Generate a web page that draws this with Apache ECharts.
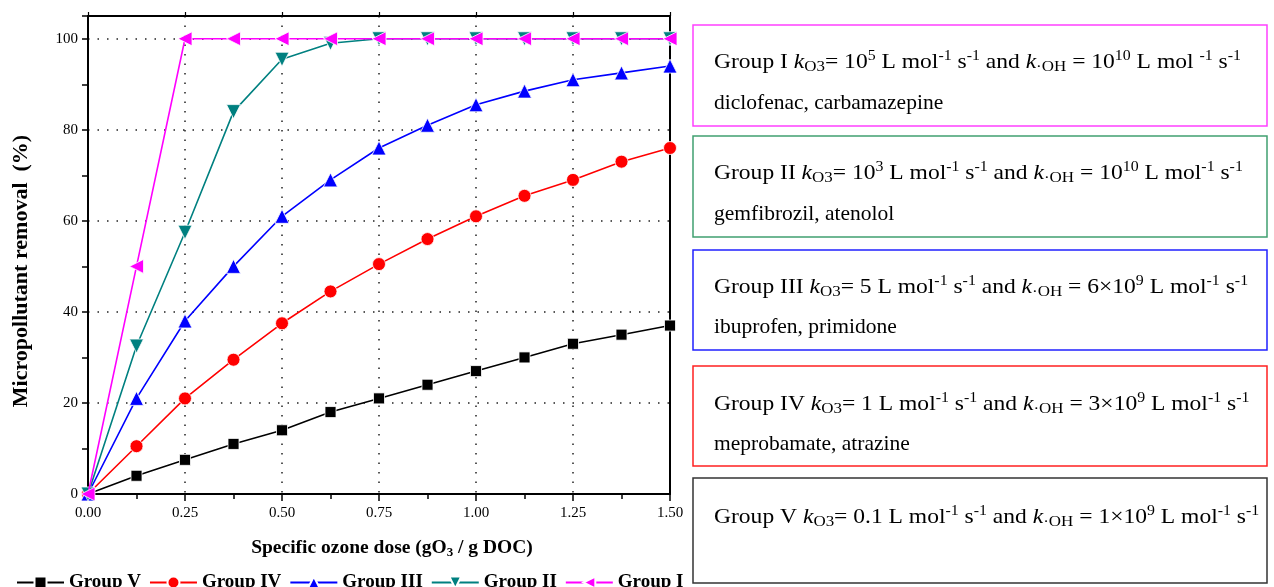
<!DOCTYPE html>
<html><head><meta charset="utf-8">
<script src="https://cdn.jsdelivr.net/npm/echarts@6/dist/echarts.min.js"></script>
<style>html,body{margin:0;padding:0;background:#fff}#c{width:1274px;height:587px}</style>
</head><body><div id="c"></div>
<script>
// ---- data ----
const doses = [0, 0.125, 0.25, 0.375, 0.5, 0.625, 0.75, 0.875, 1.0, 1.125, 1.25, 1.375, 1.5];
const groupV   = [0, 4, 7.5, 11, 14, 18, 21, 24, 27, 30, 33, 35, 37];
const groupIV  = [0, 10.5, 21, 29.5, 37.5, 44.5, 50.5, 56, 61, 65.5, 69, 73, 76];
const groupIII = [0, 21, 38, 50, 61, 69, 76, 81, 85.5, 88.5, 91, 92.5, 94];
const groupII  = [0, 32.5, 57.5, 84, 95.5, 99, 100, 100, 100, 100, 100, 100, 100];
const groupI   = [0, 50, 100, 100, 100, 100, 100, 100, 100, 100, 100, 100, 100];
const seriesNames = ['Group V', 'Group IV', 'Group III', 'Group II', 'Group I'];
const xTickLabels = ['0.00', '0.25', '0.50', '0.75', '1.00', '1.25', '1.50'];
const yTickLabels = ['0', '20', '40', '60', '80', '100'];
const yAxisTitle = 'Micropollutant removal  (%)';
const xAxisTitleParts = ['Specific ozone dose (gO', '3', ' / g DOC)'];
// text boxes: [style, text] tokens ; n normal, i italic, b subscript, p superscript
const boxTexts = [
  [[['n','Group I '],['i','k'],['b','O3'],['n','= 10'],['p','5'],['n',' L mol'],['p','-1'],['n',' s'],['p','-1'],['n',' and '],['i','k'],['b','·OH'],['n',' = 10'],['p','10'],['n',' L mol '],['p','-1'],['n',' s'],['p','-1']],
   [['n','diclofenac, carbamazepine']]],
  [[['n','Group II '],['i','k'],['b','O3'],['n','= 10'],['p','3'],['n',' L mol'],['p','-1'],['n',' s'],['p','-1'],['n',' and '],['i','k'],['b','·OH'],['n',' = 10'],['p','10'],['n',' L mol'],['p','-1'],['n',' s'],['p','-1']],
   [['n','gemfibrozil, atenolol']]],
  [[['n','Group III '],['i','k'],['b','O3'],['n','= 5 L mol'],['p','-1'],['n',' s'],['p','-1'],['n',' and '],['i','k'],['b','·OH'],['n',' = 6×10'],['p','9'],['n',' L mol'],['p','-1'],['n',' s'],['p','-1']],
   [['n','ibuprofen, primidone']]],
  [[['n','Group IV '],['i','k'],['b','O3'],['n','= 1 L mol'],['p','-1'],['n',' s'],['p','-1'],['n',' and '],['i','k'],['b','·OH'],['n',' = 3×10'],['p','9'],['n',' L mol'],['p','-1'],['n',' s'],['p','-1']],
   [['n','meprobamate, atrazine']]],
  [[['n','Group V '],['i','k'],['b','O3'],['n','= 0.1 L mol'],['p','-1'],['n',' s'],['p','-1'],['n',' and '],['i','k'],['b','·OH'],['n',' = 1×10'],['p','9'],['n',' L mol'],['p','-1'],['n',' s'],['p','-1']]]
];

// ---- styling ----
const SERIF = '"Liberation Serif","Times New Roman",serif';
const colors = ['#000000', '#ff0000', '#0000ff', '#008080', '#ff00ff'];
const symbols = ['rect', 'circle', 'triangle', 'triangle', 'triangle'];
const symSizes = [11, 13, 14, 14, 14];
const symRot = [0, 0, 0, 180, 90];
const boxColors = ['#ff40ff', '#40a070', '#2020ff', '#ff2020', '#333333'];
const boxRects = [[693, 25, 574, 101], [693, 136, 574, 101], [693, 250, 574, 100], [693, 366, 574, 100], [693, 478, 574, 105]];
const lineYs = [[62, 103], [173, 214], [287, 327], [404, 444], [517]];
const lineScaleX = [1.095, 1];

const allData = [groupV, groupIV, groupIII, groupII, groupI];
const series = allData.map((arr, k) => ({
  name: seriesNames[k], type: 'line',
  data: doses.map((d, i) => [d, arr[i]]),
  symbol: symbols[k], symbolSize: symSizes[k], symbolRotate: symRot[k],
  showAllSymbol: true,
  lineStyle: { color: colors[k], width: 1.6 },
  itemStyle: { color: colors[k], borderColor: '#fff', borderWidth: 0.8 },
  emphasis: { disabled: true },
  animation: false, z: 3 + k
}));

const rich = {
  n: { fontFamily: SERIF, fontSize: 21.5, color: '#000', lineHeight: 26 },
  i: { fontFamily: SERIF, fontSize: 21.5, fontStyle: 'italic', color: '#000', lineHeight: 26 },
  b: { fontFamily: SERIF, fontSize: 15.5, color: '#000', lineHeight: 15, verticalAlign: 'bottom' },
  p: { fontFamily: SERIF, fontSize: 14.5, color: '#000', lineHeight: 14, verticalAlign: 'top' }
};
const graphics = [];
boxRects.forEach((r, k) => {
  graphics.push({ type: 'rect', shape: { x: r[0], y: r[1], width: r[2], height: r[3] },
    style: { fill: '#fff', stroke: boxColors[k], lineWidth: 1.5 }, z: 1 });
  boxTexts[k].forEach((toks, j) => {
    graphics.push({ type: 'text', x: 714, y: lineYs[k][j], z: 2, scaleX: lineScaleX[j],
      style: { text: toks.map(t => '{' + t[0] + '|' + t[1] + '}').join(''), rich: rich,
        verticalAlign: 'middle', align: 'left' } });
  });
});

const chart = echarts.init(document.getElementById('c'), null, { renderer: 'canvas' });
chart.setOption({
  backgroundColor: '#fff',
  animation: false,
  grid: { left: 88, top: 16, width: 582, height: 478, show: false },
  legend: {
    data: seriesNames, left: 11, top: 568, itemWidth: 47, itemHeight: 15, itemGap: 8,
    textStyle: { fontFamily: SERIF, fontWeight: 'bold', fontSize: 19, color: '#000' },
    selectedMode: false
  },
  xAxis: [{
    type: 'value', min: 0, max: 1.5, interval: 0.25, position: 'bottom',
    name: '{t|' + xAxisTitleParts[0] + '}{s|' + xAxisTitleParts[1] + '}{t|' + xAxisTitleParts[2] + '}',
    nameLocation: 'middle', nameGap: 43,
    nameTextStyle: { padding: [0, 0, 0, 26], rich: {
      t: { fontFamily: SERIF, fontWeight: 'bold', fontSize: 19.5, color: '#000', lineHeight: 22 },
      s: { fontFamily: SERIF, fontWeight: 'bold', fontSize: 13, color: '#000', lineHeight: 13, verticalAlign: 'bottom' } } },
    axisLine: { show: true, onZero: false, lineStyle: { color: '#000', width: 2 } },
    axisTick: { show: true, inside: false, length: 7, lineStyle: { color: '#000', width: 1.5 } },
    minorTick: { show: true, splitNumber: 2, length: 5, lineStyle: { color: '#000', width: 1.5 } },
    axisLabel: { margin: 12, fontFamily: SERIF, fontSize: 15, color: '#000',
      formatter: v => xTickLabels[Math.round(v / 0.25)] },
    splitLine: { show: true, lineStyle: { color: '#222', width: 1.5, type: [1.5, 8] } }
  }, {
    type: 'value', min: 0, max: 1.5, interval: 0.25, position: 'top',
    axisLine: { show: true, onZero: false, lineStyle: { color: '#000', width: 2 } },
    axisTick: { show: true, inside: false, length: 4, lineStyle: { color: '#000', width: 1.2 } },
    axisLabel: { show: false }, splitLine: { show: false }
  }],
  yAxis: [{
    type: 'value', min: 0, max: 105, interval: 20, position: 'left',
    name: yAxisTitle, nameLocation: 'middle', nameGap: 56,
    nameTextStyle: { fontFamily: SERIF, fontWeight: 'bold', fontSize: 22, color: '#000', padding: [0, 32, 0, 0] },
    axisLine: { show: true, onZero: false, lineStyle: { color: '#000', width: 2 } },
    axisTick: { show: false },
    axisLabel: { margin: 10, fontFamily: SERIF, fontSize: 15, color: '#000',
      formatter: v => (v % 20 === 0 ? yTickLabels[v / 20] : '') },
    splitLine: { show: true, lineStyle: { color: '#222', width: 1.5, type: [1.5, 8] } }
  }, {
    type: 'value', min: 0, max: 105, interval: 10, position: 'left',
    axisLine: { show: false },
    axisTick: { show: true, inside: false, length: 6, lineStyle: { color: '#000', width: 1.5 } },
    axisLabel: { show: false }, splitLine: { show: false }
  }, {
    type: 'value', min: 0, max: 105, interval: 20, position: 'right',
    axisLine: { show: true, onZero: false, lineStyle: { color: '#000', width: 2 } },
    axisTick: { show: false }, axisLabel: { show: false }, splitLine: { show: false }
  }],
  series: series,
  graphic: graphics
});
</script>
</body></html>
